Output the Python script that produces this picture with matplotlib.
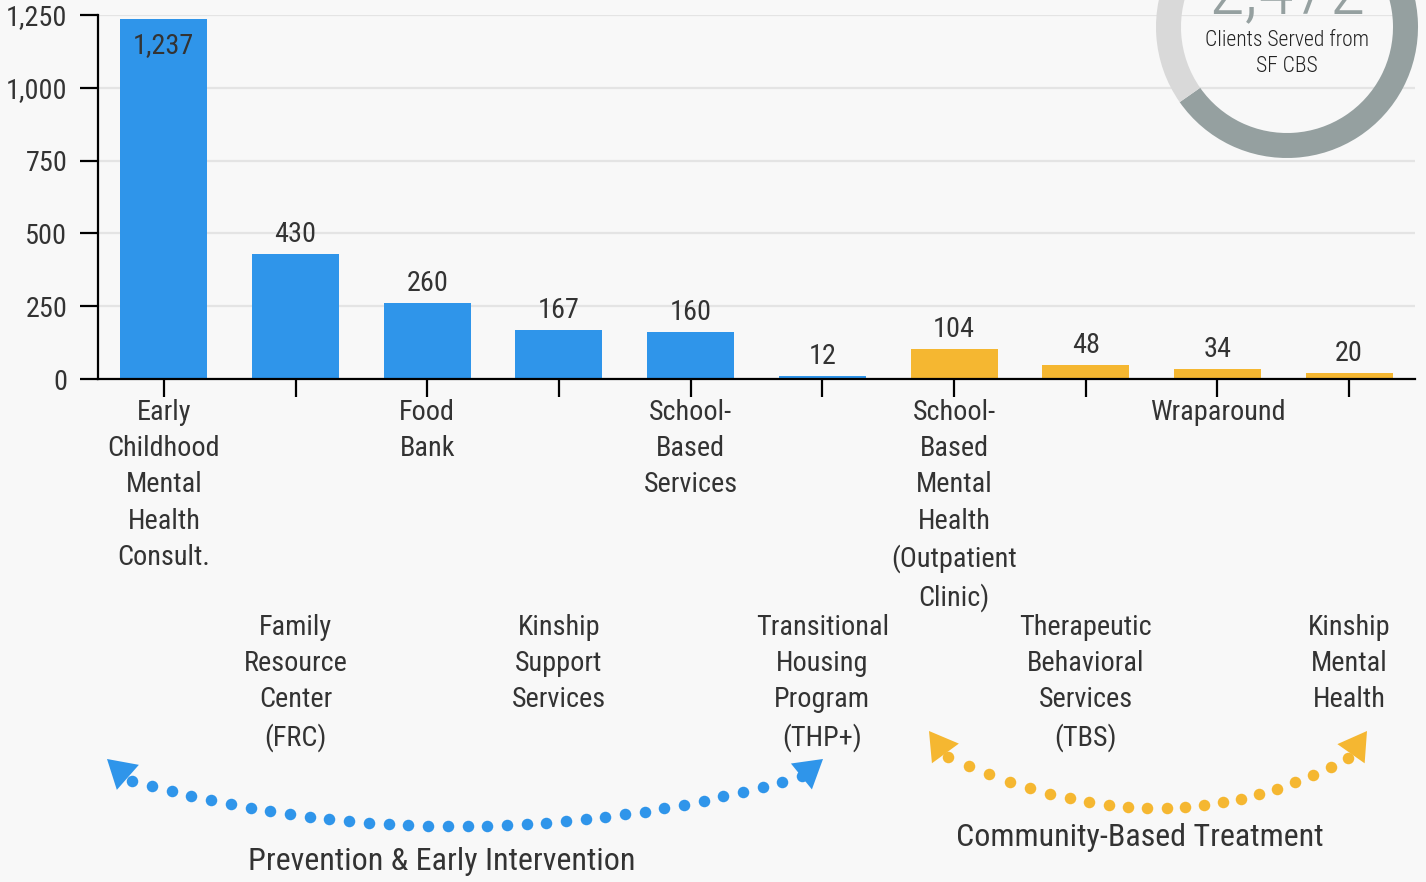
import numpy as np
import matplotlib.pyplot as plt
from matplotlib.patches import Wedge

plt.rcParams['font.family'] = ['Roboto Condensed', 'Roboto', 'DejaVu Sans']

# Clients served per program
programs = [
    "Early\nChildhood\nMental\nHealth\nConsult.",
    "Family\nResource\nCenter\n(FRC)",
    "Food\nBank",
    "Kinship\nSupport\nServices",
    "School-\nBased\nServices",
    "Transitional\nHousing\nProgram\n(THP+)",
    "School-\nBased\nMental\nHealth\n(Outpatient\nClinic)",
    "Therapeutic\nBehavioral\nServices\n(TBS)",
    "Wraparound",
    "Kinship\nMental\nHealth",
]
clients = [1237, 430, 260, 167, 160, 12, 104, 48, 34, 20]
group = ["pei"] * 6 + ["cbt"] * 4
total_label = "2,472"
y_ticks = [0, 250, 500, 750, 1000, 1250]

BLUE = "#2F95EA"
YELLOW = "#F5B731"
TEXT = "#333333"
BG = "#F8F8F8"
colors = {"pei": BLUE, "cbt": YELLOW}
FS = 20.3

W, H = 1426, 882
fig = plt.figure(figsize=(W / 100, H / 100), dpi=100, facecolor=BG)

# main bar chart
ax = fig.add_axes([98 / W, 1 - 379 / H, (1415 - 98) / W, 364 / H])
ax.set_facecolor("none")
x = np.arange(len(clients))
ax.bar(x, clients, width=0.66, color=[colors[g] for g in group], zorder=2)
ax.set_xlim(-0.5, len(clients) - 0.5)
ax.set_ylim(0, 1250)
ax.set_yticks(y_ticks)
ax.set_yticklabels([f"{v:,}" for v in y_ticks], fontsize=FS, color=TEXT)
ax.set_xticks(x)
ax.set_xticklabels([])
ax.tick_params(axis="both", length=13, width=1.6, color="black")
ax.tick_params(axis="y", pad=9)
ax.grid(axis="y", color="#E4E4E4", linewidth=1.6, zorder=0)
ax.set_axisbelow(True)
for s in ["top", "right"]:
    ax.spines[s].set_visible(False)
for s in ["left", "bottom"]:
    ax.spines[s].set_linewidth(1.6)

# value labels
for i, v in enumerate(clients):
    if v > 1000:
        ax.annotate(f"{v:,}", xy=(i, v), xytext=(0, -13), textcoords="offset pixels",
                    ha="center", va="top", fontsize=FS, color=TEXT)
    else:
        ax.annotate(f"{v:,}", xy=(i, v), xytext=(0, 6), textcoords="offset pixels",
                    ha="center", va="bottom", fontsize=FS, color=TEXT)

# staggered category labels
for i, name in enumerate(programs):
    off = 20 if i % 2 == 0 else 235
    ax.annotate(name, xy=(i, 0), xycoords=("data", "axes fraction"),
                xytext=(0, -off), textcoords="offset pixels",
                ha="center", va="top", fontsize=FS, color=TEXT,
                linespacing=1.44)

# overlay in pixel coordinates for the donut and the group arrows
ov = fig.add_axes([0, 0, 1, 1])
ov.set_xlim(0, W)
ov.set_ylim(H, 0)
ov.axis("off")
ov.patch.set_alpha(0)

cx, cy, r = 1287, 27, 131
ov.add_patch(Wedge((cx, cy), r, -90, 145, width=25, color="#95A0A0", lw=0))
ov.add_patch(Wedge((cx, cy), r, 145, 270, width=25, color="#D9D9D9", lw=0))
ov.text(cx, 14, total_label, ha="center", va="baseline", fontsize=53,
        color="#95A0A0", fontweight="light")
ov.text(cx, 41, "Clients Served from", ha="center", va="center", fontsize=15.5,
        color="#222222", fontweight="light")
ov.text(cx, 67, "SF CBS", ha="center", va="center", fontsize=15.5,
        color="#222222", fontweight="light")


def dotted_arc(p0, p1, p2, n, tip0, tip1, color):
    t = np.linspace(0, 1, n)[:, None]
    pts = (1 - t) ** 2 * np.array(p0) + 2 * (1 - t) * t * np.array(p1) + t ** 2 * np.array(p2)
    ov.plot(pts[:, 0], pts[:, 1], "o", ms=8.3, color=color, mec="none")
    for tip, base in ((tip0, p0), (tip1, p2)):
        ov.annotate("", xy=tip, xytext=base,
                    arrowprops=dict(arrowstyle="-|>,head_length=0.5,head_width=0.3",
                                    color=color, lw=0, mutation_scale=40,
                                    shrinkA=0, shrinkB=0))


dotted_arc((132, 781), (468, 874), (802, 776), 35, (107, 759), (823, 759), BLUE)
dotted_arc((948, 757), (1166, 858), (1348, 758), 22, (929, 731), (1367, 731), YELLOW)

ov.text(442, 861, "Prevention & Early Intervention", ha="center", va="center",
        fontsize=23, color=TEXT)
ov.text(1140, 837, "Community-Based Treatment", ha="center", va="center",
        fontsize=23, color=TEXT)

fig.savefig("out.png", dpi=100, facecolor=BG)
